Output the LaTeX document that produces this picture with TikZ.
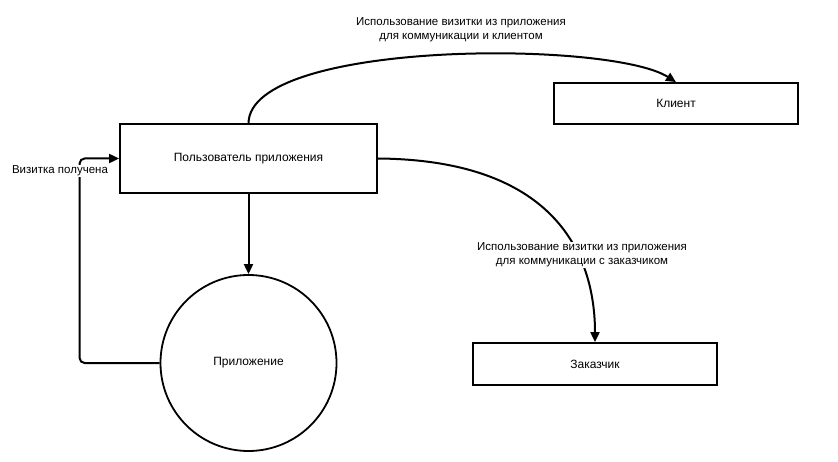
\documentclass[tikz,border=0pt]{standalone}
\usepackage{fontspec}
\setmainfont{Liberation Sans}
\usetikzlibrary{arrows.meta,positioning}

\begin{document}
\begin{tikzpicture}[x=1pt,y=-1pt,>={Triangle[length=10pt,width=9pt]},
  every node/.style={font=\fontsize{12}{14}\selectfont,align=center},
  flow/.style={->,line width=2pt},
  box/.style={draw,rectangle,line width=1.8pt,minimum width=244pt,minimum height=41pt,inner sep=0pt},
  ring/.style={draw,circle,line width=1.8pt,minimum size=176pt,inner sep=0pt},
  lbl/.style={fill=white,inner sep=1pt,font=\fontsize{11.5}{14}\selectfont}]
\useasboundingbox (0,0) rectangle (838,462);
\node[box,minimum width=257pt,minimum height=69pt] (user) at (248.5,158.5) {Пользователь приложения};
\node[box] (client) at (676,103.5) {Клиент};
\node[box,minimum height=42pt] (customer) at (595,364) {Заказчик};
\node[ring] (app) at (248.5,363) {Приложение};

\draw[flow] (user.north) .. controls (250,40) and (610,40) .. (client.north);
\node[lbl] (clientlbl) at (461,30) {Использование визитки из приложения\\для коммуникации и клиентом};

\draw[flow] (user.east) .. controls (560,160) and (595,260) .. (customer.north);
\node[lbl] (customerlbl) at (582,255) {Использование визитки из приложения\\для коммуникации с заказчиком};

\draw[flow] (user) -- (app);

\draw[flow,rounded corners=5pt] (app.west) -- ++(-80,0) |- (user.west);
\node[lbl] (gotlbl) at (60,171) {Визитка получена};
\end{tikzpicture}
\end{document}
